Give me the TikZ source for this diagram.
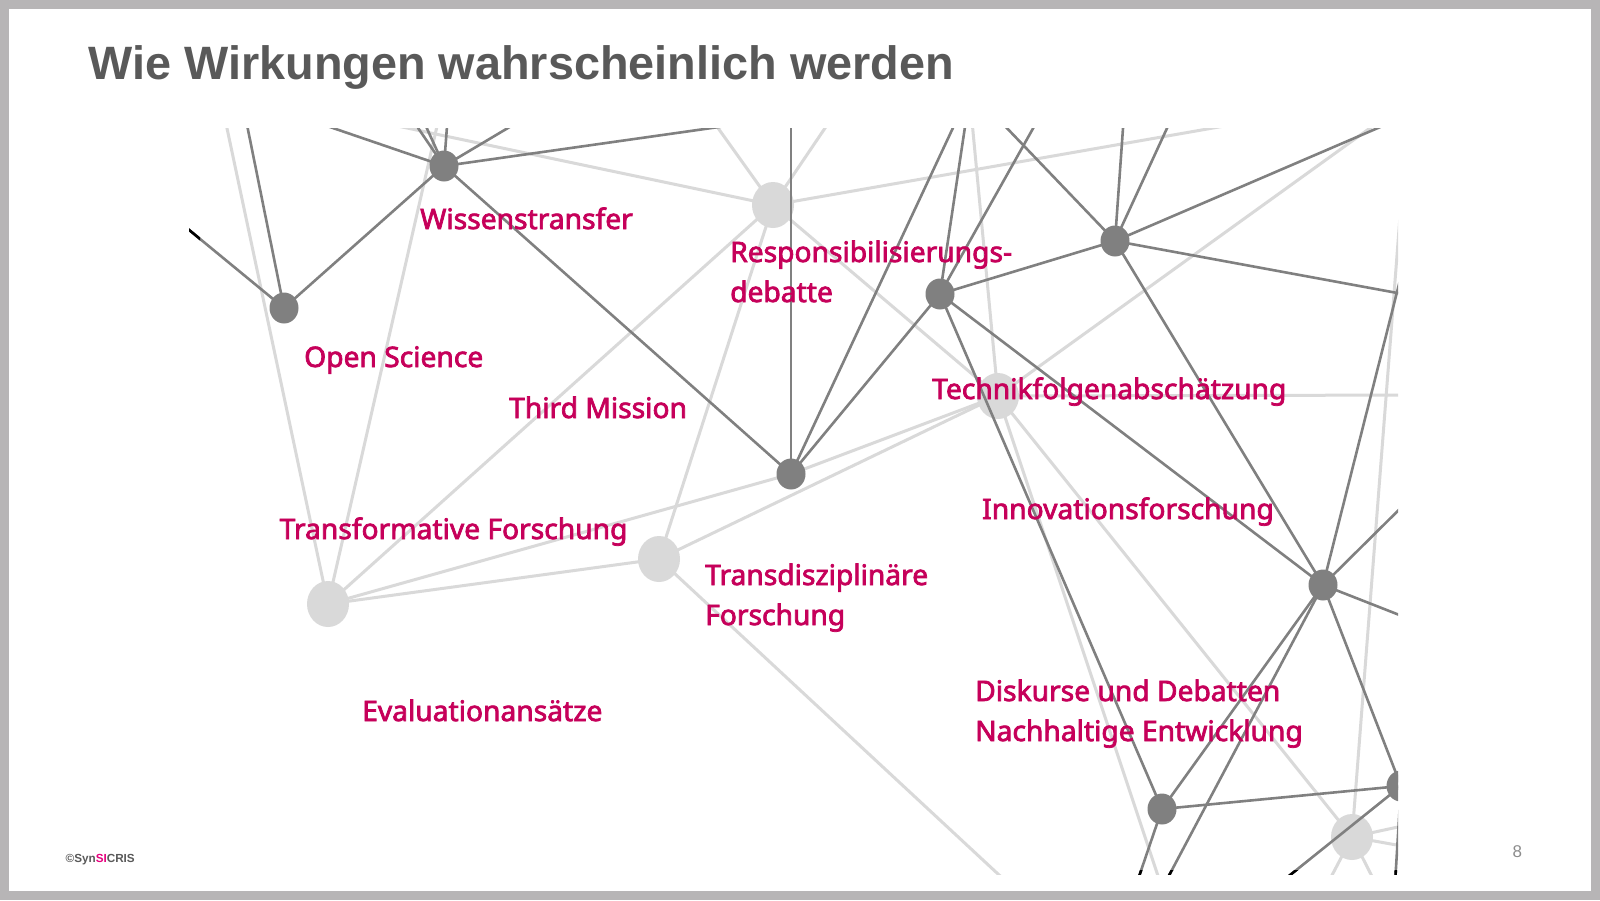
\documentclass[tikz,border=0pt]{standalone}
\usepackage{fontspec}
\setmainfont{Liberation Sans}
\newfontfamily\labelfont{Noto Sans}[FakeBold=2.6]
\def\lblsz{28.2}
\usetikzlibrary{shapes.geometric}
\pgfdeclarelayer{bg}
\pgfdeclarelayer{lightlines}
\pgfdeclarelayer{lightnodes}
\pgfdeclarelayer{darklines}
\pgfsetlayers{bg,lightlines,lightnodes,darklines,main}
\definecolor{framegray}{HTML}{B7B5B6}
\definecolor{titlegray}{HTML}{595959}
\definecolor{darkgray}{HTML}{808080}
\definecolor{lightgray}{HTML}{D9D9D9}
\definecolor{labelred}{HTML}{C6005A}
\definecolor{sipink}{HTML}{E6007E}
\definecolor{pagegray}{HTML}{8C8C8C}
\tikzset{
  darkdot/.style={ellipse,fill=darkgray,draw=none,minimum width=29pt,minimum height=31pt,inner sep=0pt},
  lightdot/.style={ellipse,fill=lightgray,draw=none,minimum width=42pt,minimum height=46pt,inner sep=0pt},
  darkline/.style={draw=darkgray,line width=2.6pt},
  lightline/.style={draw=lightgray,line width=3pt},
  blackend/.style={draw=black,line width=2.6pt},
  lbl/.style={anchor=base west,inner sep=0pt,text=labelred,font=\labelfont\fontsize{\lblsz}{30}\selectfont},
}
\begin{document}
\begin{tikzpicture}[x=1pt,y=-1pt]
\useasboundingbox (0,0) rectangle (1600,900);
\begin{pgfonlayer}{bg}
  \fill[framegray] (0,0) rectangle (1600,900);
  \fill[white] (9,9) rectangle (1591,891);
\end{pgfonlayer}

% ---------- light nodes ----------
\begin{pgfonlayer}{lightnodes}
\begin{scope}
  \clip (189,128) rectangle (1398,874);
  \node[lightdot] (L1) at (773,205) {};
  \node[lightdot] (L2) at (998,396) {};
  \node[lightdot] (L3) at (659,559) {};
  \node[lightdot] (L4) at (328,604) {};
  \node[lightdot] (L5) at (1352,837) {};
\end{scope}
\end{pgfonlayer}

% ---------- dark nodes ----------
\begin{scope}
  \clip (189,128) rectangle (1398,874);
  \node[darkdot] (D1) at (444,166) {};
  \node[darkdot] (D2) at (284,308) {};
  \node[darkdot] (D3) at (940,294) {};
  \node[darkdot] (D4) at (1115,241) {};
  \node[darkdot] (D5) at (791,474) {};
  \node[darkdot] (D6) at (1323,585) {};
  \node[darkdot] (D7) at (1162,809) {};
  \node[darkdot] (D8) at (1401,786) {};
\end{scope}

% ---------- off-canvas ends ----------
\coordinate (d1a) at (251,100);
\coordinate (d1b) at (399,100);
\coordinate (d1c) at (414,100);
\coordinate (d1d) at (449,100);
\coordinate (d1e) at (555,100);
\coordinate (d1f) at (909,100);
\coordinate (d2a) at (160,206);
\coordinate (d2b) at (242,100);
\coordinate (d5a) at (791,100);
\coordinate (d5b) at (966,100);
\coordinate (d3a) at (969,100);
\coordinate (d3b) at (1049,100);
\coordinate (d4a) at (980,100);
\coordinate (d4b) at (1125,100);
\coordinate (d4c) at (1180,100);
\coordinate (d4d) at (1443,100);
\coordinate (d4e) at (1430,299);
\coordinate (d6a) at (1420,201);
\coordinate (d6b) at (1430,479);
\coordinate (d6c) at (1430,627);
\coordinate (d6d) at (1156,900);
\coordinate (d7a) at (1131,900);
\coordinate (d8a) at (1259,900);
\coordinate (d8b) at (1394,900);
\coordinate (l4a) at (221,100);
\coordinate (l4b) at (443,100);
\coordinate (l1a) at (274,100);
\coordinate (l1b) at (698,100);
\coordinate (l1c) at (844,100);
\coordinate (l1d) at (1373,100);
\coordinate (l3a) at (1026,900);
\coordinate (l2a) at (970,100);
\coordinate (l2b) at (1409,100);
\coordinate (l2c) at (1430,395);
\coordinate (l2d) at (1166,900);
\coordinate (l5a) at (1409,100);
\coordinate (l5b) at (1430,820);
\coordinate (l5c) at (1430,851);
\coordinate (l5d) at (1319,900);
\coordinate (l5e) at (1384,900);

% ---------- light lines ----------
\begin{pgfonlayer}{lightlines}
\begin{scope}
  \clip (189,128) rectangle (1398,874);
  \draw[lightline] (L4.center) -- (l4a);
  \draw[lightline] (L4.center) -- (l4b);
  \draw[lightline] (L4.center) -- (L1.center);
  \draw[lightline] (L4.center) -- (D5.center);
  \draw[lightline] (L4.center) -- (L3.center);
  \draw[lightline] (L1.center) -- (l1a);
  \draw[lightline] (L1.center) -- (l1b);
  \draw[lightline] (L1.center) -- (l1c);
  \draw[lightline] (L1.center) -- (l1d);
  \draw[lightline] (L1.center) -- (L3.center);
  \draw[lightline] (L1.center) -- (L2.center);
  \draw[lightline] (L3.center) -- (L2.center);
  \draw[lightline] (D5.center) -- (L2.center);
  \draw[lightline] (L3.center) -- (l3a);
  \draw[lightline] (L2.center) -- (l2a);
  \draw[lightline] (L2.center) -- (l2b);
  \draw[lightline] (L2.center) -- (l2c);
  \draw[lightline] (L2.center) -- (l2d);
  \draw[lightline] (L2.center) -- (L5.center);
  \draw[lightline] (L5.center) -- (l5a);
  \draw[lightline] (L5.center) -- (l5b);
  \draw[lightline] (L5.center) -- (l5c);
  \draw[lightline] (L5.center) -- (l5d);
  \draw[lightline] (L5.center) -- (l5e);
\end{scope}
\end{pgfonlayer}

% ---------- dark lines ----------
\begin{pgfonlayer}{darklines}
\begin{scope}
  \clip (189,128) rectangle (1398,874);
  \draw[darkline] (D1.center) -- (d1a);
  \draw[darkline] (D1.center) -- (d1b);
  \draw[darkline] (D1.center) -- (d1c);
  \draw[darkline] (D1.center) -- (d1d);
  \draw[darkline] (D1.center) -- (d1e);
  \draw[darkline] (D1.center) -- (d1f);
  \draw[darkline] (D1.center) -- (D2.center);
  \draw[darkline] (D1.center) -- (D5.center);
  \draw[darkline] (D2.center) -- (d2a);
  \draw[darkline] (D2.center) -- (d2b);
  \draw[darkline] (D5.center) -- (d5a);
  \draw[darkline] (D5.center) -- (d5b);
  \draw[darkline] (D5.center) -- (D3.center);
  \draw[darkline] (D3.center) -- (d3a);
  \draw[darkline] (D3.center) -- (d3b);
  \draw[darkline] (D3.center) -- (D4.center);
  \draw[darkline] (D3.center) -- (D6.center);
  \draw[darkline] (D3.center) -- (D7.center);
  \draw[darkline] (D4.center) -- (d4a);
  \draw[darkline] (D4.center) -- (d4b);
  \draw[darkline] (D4.center) -- (d4c);
  \draw[darkline] (D4.center) -- (d4d);
  \draw[darkline] (D4.center) -- (d4e);
  \draw[darkline] (D4.center) -- (D6.center);
  \draw[darkline] (D6.center) -- (d6a);
  \draw[darkline] (D6.center) -- (d6b);
  \draw[darkline] (D6.center) -- (d6c);
  \draw[darkline] (D6.center) -- (d6d);
  \draw[darkline] (D6.center) -- (D8.center);
  \draw[darkline] (D6.center) -- (D7.center);
  \draw[darkline] (D7.center) -- (D8.center);
  \draw[darkline] (D7.center) -- (d7a);
  \draw[darkline] (D8.center) -- (d8a);
  \draw[darkline] (D8.center) -- (d8b);
\end{scope}
\begin{scope}
  \clip (189,870) rectangle (1398,874);
  \draw[blackend] (D7.center) -- (d7a);
  \draw[blackend] (D6.center) -- (d6d);
  \draw[blackend] (D8.center) -- (d8a);
  \draw[blackend] (D8.center) -- (d8b);
\end{scope}
\begin{scope}
  \clip (189,128) rectangle (200,874);
  \draw[blackend] (D2.center) -- (d2a);
\end{scope}
\end{pgfonlayer}

% ---------- texts ----------
\node[anchor=base west,inner sep=0pt,text=titlegray,font=\bfseries\fontsize{46.8}{52}\selectfont] (title) at (88.5,79.5) {Wie Wirkungen wahrscheinlich werden};

\node[lbl] (wissen) at (420,229) {Wissenstransfer};
\node[lbl] (open) at (304,367) {Open Science};
\node[lbl] (third) at (509,418) {Third Mission};
\node[lbl] (resp1) at (730,262) {Responsibilisierungs-};
\node[lbl] (resp2) at (730,302) {debatte};
\node[lbl] (technik) at (932,399) {Technikfolgenabschätzung};
\node[lbl] (transf) at (279.5,539) {Transformative Forschung};
\node[lbl] (eval) at (362,721) {Evaluationansätze};
\node[lbl] (transd1) at (705,585) {Transdisziplinäre};
\node[lbl] (transd2) at (705,625) {Forschung};
\node[lbl] (innov) at (982,519) {Innovationsforschung};
\node[lbl] (disk1) at (975,701) {Diskurse und Debatten};
\node[lbl] (disk2) at (975,741) {Nachhaltige Entwicklung};

\node[anchor=base west,inner sep=0pt,text=titlegray,font=\bfseries\fontsize{11.7}{14}\selectfont] (copyright) at (65.5,862.3) {©Syn\textcolor{sipink}{SI}CRIS};
\node[anchor=base west,inner sep=0pt,text=pagegray,font=\fontsize{17}{20}\selectfont] (pagenum) at (1512.5,857.3) {8};
\end{tikzpicture}
\end{document}
